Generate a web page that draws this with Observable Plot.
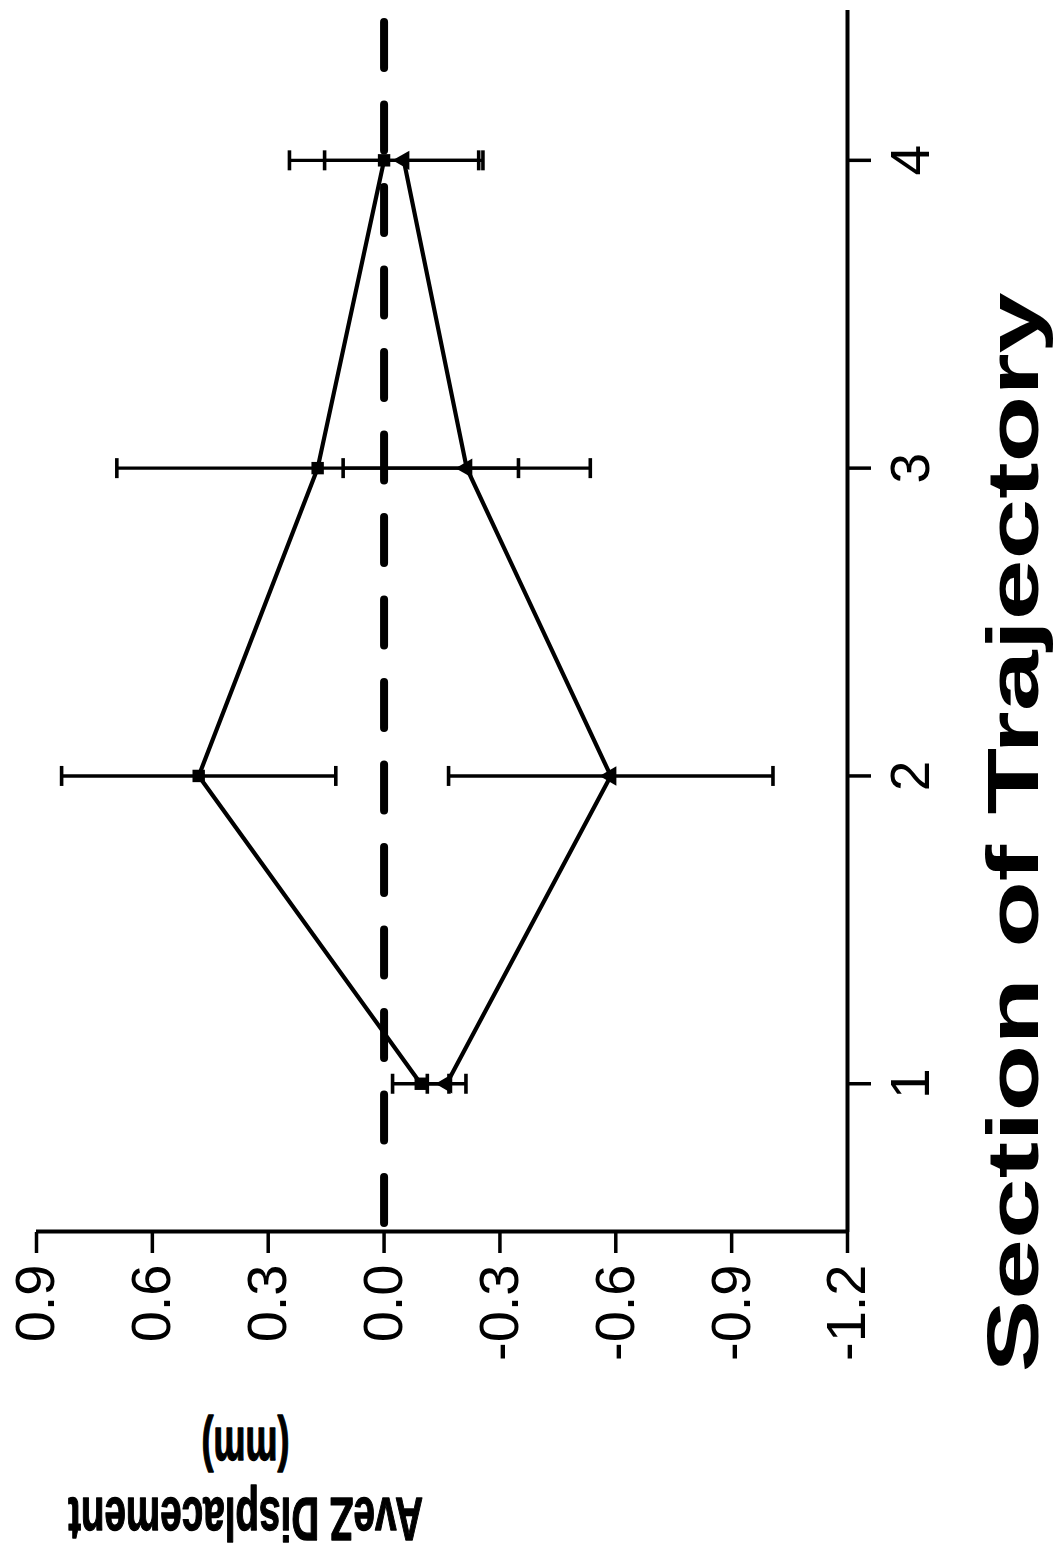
<!DOCTYPE html>
<html>
<head>
<meta charset="utf-8">
<script src="https://cdn.jsdelivr.net/npm/d3@7"></script>
<script src="https://cdn.jsdelivr.net/npm/@observablehq/plot@0.6"></script>
<style>
  html, body { margin: 0; padding: 0; background: #fff; }
  #chart { position: relative; width: 1057px; height: 1559px; overflow: hidden; background: #fff; }
  /* the chart is laid out landscape and turned a quarter turn counter-clockwise */
  #chart svg {
    position: absolute; left: 0; top: 0;
    max-width: none !important;
    width: 1559px; height: 1057px !important;
    transform-origin: 0 0;
    transform: translate(0, 1559px) rotate(-90deg);
  }
</style>
</head>
<body>
<div id="chart"></div>
<script>
// Sections of the trajectory
const sections = [1, 2, 3, 4];

// Square series: mean AveZ displacement (mm) and error half-width
const squareMean = [-0.095, 0.48, 0.172, 0.0];
const squareErr  = [0.073, 0.355, 0.52, 0.245];

// Triangle series: mean AveZ displacement (mm) and error half-width
const triangleMean = [-0.162, -0.587, -0.214, -0.051];
const triangleErr  = [0.05, 0.42, 0.32, 0.205];

// Axis ticks
const valueTicks = [0.9, 0.6, 0.3, 0.0, -0.3, -0.6, -0.9, -1.2];
const sectionTicks = [1, 2, 3, 4];

const xDomain = [0.52, 4.49];
const yDomain = [-1.2, 0.9];

const rows = [
  ...sections.map((s, i) => ({series: "square", section: s, mean: squareMean[i], err: squareErr[i]})),
  ...sections.map((s, i) => ({series: "triangle", section: s, mean: triangleMean[i], err: triangleErr[i]}))
];
const caps = rows.flatMap(d => [
  {section: d.section, y: d.mean - d.err},
  {section: d.section, y: d.mean + d.err}
]);

// Short horizontal stroke used for the error-bar caps
const capSymbol = {
  draw(context, size) {
    const r = Math.sqrt(size / Math.PI);
    context.moveTo(-r, 0);
    context.lineTo(r, 0);
  }
};

const font = "'Liberation Sans', Arial, Helvetica, sans-serif";

const chart = Plot.plot({
  width: 1559,
  height: 1057,
  marginLeft: 327,
  marginRight: 10,
  marginTop: 36,
  marginBottom: 210,
  x: {domain: xDomain},
  y: {domain: yDomain},
  style: {fontFamily: font, color: "black", background: "white", maxWidth: "none", overflow: "visible"},
  marks: [
    // zero reference
    Plot.ruleY([0], {stroke: "black", strokeWidth: 8, strokeDasharray: "46,36.5", strokeDashoffset: 73.5, strokeLinecap: "round"}),
    // axis lines
    Plot.ruleX([xDomain[0]], {y1: yDomain[0], y2: yDomain[1], stroke: "black", strokeWidth: 4}),
    Plot.ruleY([yDomain[0]], {x1: xDomain[0], x2: xDomain[1], stroke: "black", strokeWidth: 4}),
    Plot.axisY({ticks: valueTicks, tickFormat: d => d.toFixed(1), tickSize: 21, tickPadding: 12, fontSize: 56, strokeWidth: 3.5, label: null}),
    Plot.axisX({ticks: sectionTicks, tickFormat: d => String(d), tickSize: 24, tickPadding: 18, fontSize: 55, strokeWidth: 3.5, label: null}),
    // series lines
    Plot.line(rows, {x: "section", y: "mean", z: "series", stroke: "black", strokeWidth: 4.2}),
    // error bars
    Plot.ruleX(rows, {x: "section", y1: d => d.mean - d.err, y2: d => d.mean + d.err, stroke: "black", strokeWidth: 3.4}),
    Plot.dot(caps, {x: "section", y: "y", symbol: capSymbol, r: 10, fill: "none", stroke: "black", strokeWidth: 3.6}),
    // markers
    Plot.dot(rows.filter(d => d.series === "square"), {x: "section", y: "mean", symbol: "square", r: 7, fill: "black", stroke: "none"}),
    Plot.dot(rows.filter(d => d.series === "triangle"), {x: "section", y: "mean", symbol: "triangle", r: 7.2, fill: "black", stroke: "none"}),
    // axis titles
    Plot.text(["Section of Trajectory"], {frameAnchor: "bottom", lineAnchor: "bottom", textAnchor: "middle", dx: -212, dy: 190, fontSize: 72, fontWeight: "bold", fill: "black"}),
    Plot.text(["AveZ Displacement"], {frameAnchor: "left", lineAnchor: "bottom", textAnchor: "middle", rotate: -90, dx: -266, dy: -196.5, fontSize: 62, fontWeight: "bold", fill: "black", stroke: "black", strokeWidth: 1.4}),
    Plot.text(["(mm)"], {frameAnchor: "left", lineAnchor: "bottom", textAnchor: "middle", rotate: -90, dx: -196, dy: -196.5, fontSize: 62, fontWeight: "bold", fill: "black", stroke: "black", strokeWidth: 1.4})
  ]
});

document.getElementById("chart").appendChild(chart);

// lettering widths of the titles: rotated titles are squeezed with a scale,
// the horizontal one is spread with textLength
const titleLengths = {"Section of Trajectory": 1080, "AveZ Displacement": 355, "(mm)": 88};
d3.select(chart).selectAll("text").each(function () {
  const len = titleLengths[this.textContent];
  if (!len) return;
  const t = this.getAttribute("transform");
  if (t && t.includes("rotate")) {
    const natural = this.getComputedTextLength();
    this.setAttribute("transform", `${t} scale(${len / natural},1)`);
  } else {
    this.setAttribute("textLength", len);
    this.setAttribute("lengthAdjust", "spacingAndGlyphs");
  }
});
</script>
</body>
</html>
